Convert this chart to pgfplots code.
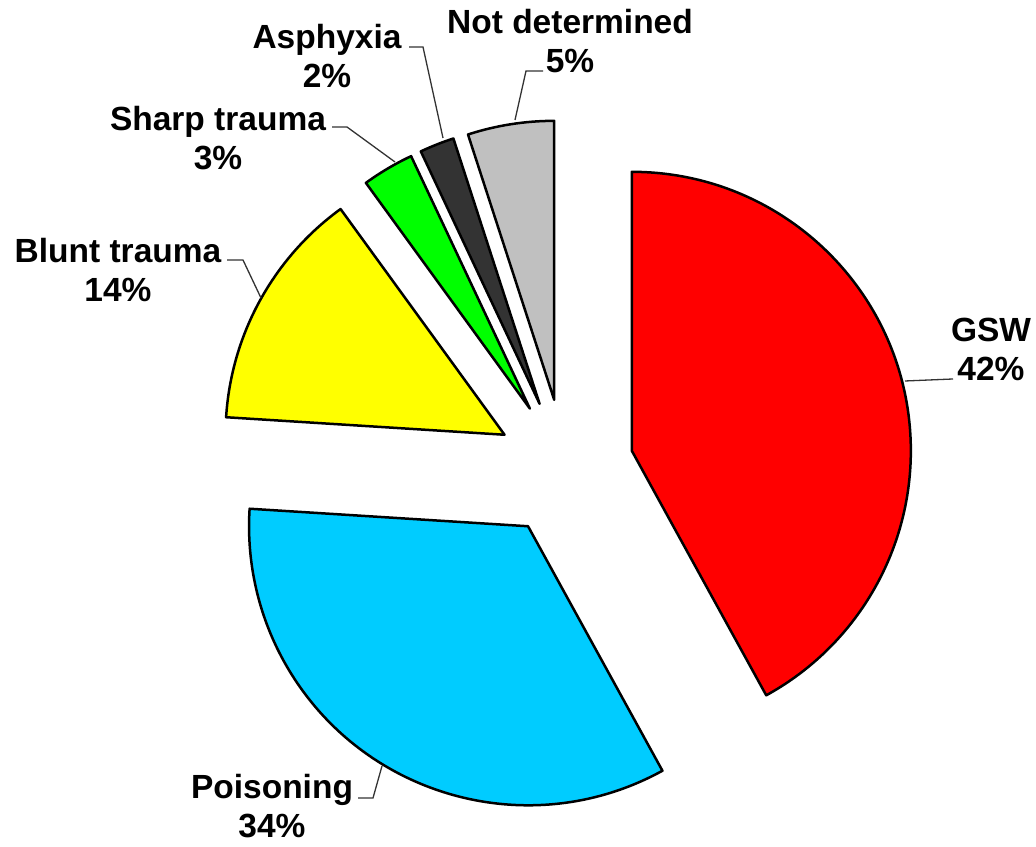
\documentclass[border=0pt]{standalone}
\usepackage{pgfplots}
\pgfplotsset{compat=1.18}
\usepackage{pgfplotstable}
\usepackage{fontspec}
\setmainfont{Liberation Sans}

\definecolor{gswred}{HTML}{FF0000}
\definecolor{poiscyan}{HTML}{00CCFF}
\definecolor{bluntyellow}{HTML}{FFFF00}
\definecolor{sharpgreen}{HTML}{00FF00}
\definecolor{asphdark}{HTML}{333333}
\definecolor{ndgray}{HTML}{C0C0C0}

\pgfplotstableread{
value color
42 gswred
34 poiscyan
14 bluntyellow
3 sharpgreen
2 asphdark
5 ndgray
}\piedata

\begin{document}
\begin{tikzpicture}[font=\fontsize{33.5}{39}\selectfont\bfseries]
\begin{axis}[
  hide axis, x=1pt, y=1pt,
  xmin=0, xmax=1036, ymin=0, ymax=846,
  clip=false, scale only axis,
]
\pgfplotsextra{
  \path (axis cs:0,0) rectangle (axis cs:1036,846);
  \gdef\curang{90}
  \foreach \i in {0,...,5}{
    \pgfplotstablegetelem{\i}{value}\of\piedata \let\pv\pgfplotsretval
    \pgfplotstablegetelem{\i}{color}\of\piedata \edef\pc{\pgfplotsretval}
    \pgfmathsetmacro\aone{\curang}
    \pgfmathsetmacro\atwo{\curang-3.6*\pv}
    \pgfmathsetmacro\bis{(\aone+\atwo)/2}
    \pgfmathsetmacro\px{565+69*cos(\bis)}
    \pgfmathsetmacro\py{378+69*sin(\bis)}
    \filldraw[fill=\pc, draw=black, line width=2.5pt, line join=round]
      (axis cs:\px,\py) -- ++(\aone:279pt) arc[start angle=\aone, end angle=\atwo, radius=279pt] -- cycle;
    \xdef\curang{\atwo}
  }
  % leader lines
  \draw[line width=1.3pt, black!80] (axis cs:905,465) -- (axis cs:953,467);
  \draw[line width=1.3pt, black!80] (axis cs:382,80) -- (axis cs:373,48) -- (axis cs:358,48);
  \draw[line width=1.3pt, black!80] (axis cs:261,548) -- (axis cs:243,586) -- (axis cs:227,586);
  \draw[line width=1.3pt, black!80] (axis cs:395,684) -- (axis cs:347,719) -- (axis cs:332,719);
  \draw[line width=1.3pt, black!80] (axis cs:443,708) -- (axis cs:423,799) -- (axis cs:409,799);
  \draw[line width=1.3pt, black!80] (axis cs:515,726) -- (axis cs:526,775) -- (axis cs:543,775);
  % labels
  \node[align=center, inner sep=0pt] at (axis cs:991,497) {GSW\\42\%};
  \node[align=center, inner sep=0pt] at (axis cs:272,40) {Poisoning\\34\%};
  \node[align=center, inner sep=0pt] at (axis cs:118,576) {Blunt trauma\\14\%};
  \node[align=center, inner sep=0pt] at (axis cs:218,708) {Sharp trauma\\3\%};
  \node[align=center, inner sep=0pt] at (axis cs:327,790) {Asphyxia\\2\%};
  \node[align=center, inner sep=0pt] at (axis cs:570,805) {Not determined\\5\%};
}
\end{axis}
\end{tikzpicture}
\end{document}
